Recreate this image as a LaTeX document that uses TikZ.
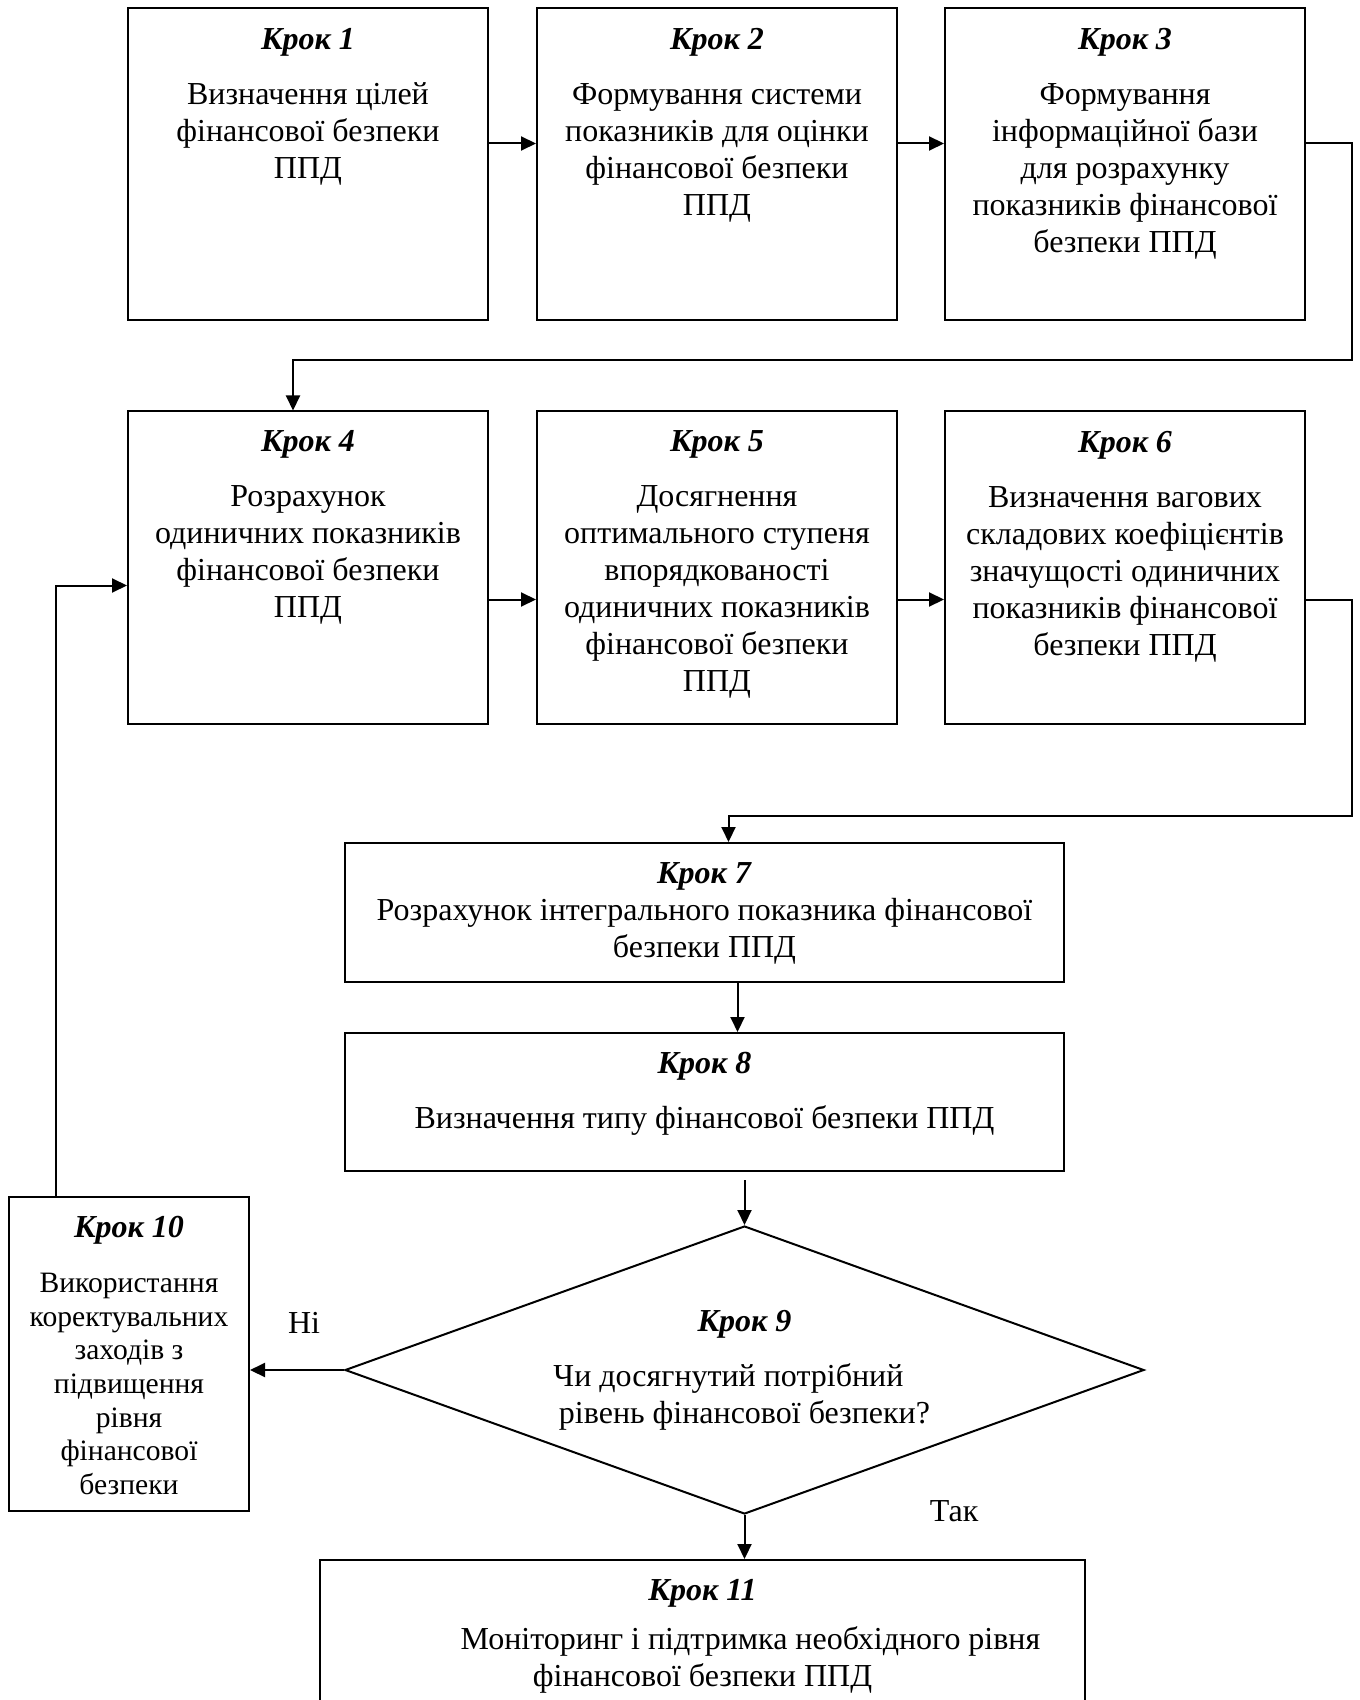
\documentclass[tikz,border=0pt]{standalone}
\usepackage{fontspec}
\setmainfont{Liberation Serif}
\usepackage{tikz}
\usetikzlibrary{arrows.meta,shapes.geometric,positioning}
\newcommand{\krok}[1]{\textbf{\textit{Крок #1}}}

\begin{document}
\begin{tikzpicture}[x=0.5pt,y=-0.5pt]
\tikzstyle{stepbox}=[draw,line width=1pt,inner sep=0pt,minimum width=180pt,minimum height=156pt]
\tikzstyle{steptext}=[align=center,inner sep=0pt,font=\fontsize{16pt}{18.5pt}\selectfont]
\tikzstyle{smalltext}=[steptext,font=\fontsize{14.8pt}{16.8pt}\selectfont]
\tikzstyle{arr}=[-{Triangle[length=7.5pt,width=7pt]},line width=1pt]
\clip (0,0) rectangle (1359,1700);
\node[stepbox] (s1) at (308,164.5) {};
\node[stepbox] (s2) at (717,164.5) {};
\node[stepbox] (s3) at (1125,164.5) {};
\node[stepbox] (s4) at (308,567.5) {};
\node[stepbox] (s5) at (717,567.5) {};
\node[stepbox] (s6) at (1125,567.5) {};
\node[stepbox,minimum width=359.5pt,minimum height=69.5pt] (s7) at (704.5,912.5) {};
\node[stepbox,minimum width=359.5pt,minimum height=69pt] (s8) at (704.5,1102) {};
\node[stepbox,diamond,shape aspect=2.77,minimum width=399.5pt,minimum height=144pt] (d9) at (744.5,1370) {};
\node[stepbox,minimum width=120pt,minimum height=157pt] (s10) at (129,1354) {};
\node[stepbox,minimum width=382.5pt,minimum height=100pt] (s11) at (702.5,1660) {};
\node[steptext,below=10pt of s1.north] (t1) {\krok{1}\\[9pt]Визначення цілей\\фінансової безпеки\\ППД};
\node[steptext,below=10pt of s2.north] (t2) {\krok{2}\\[9pt]Формування системи\\показників для оцінки\\фінансової безпеки\\ППД};
\node[steptext,below=10pt of s3.north] (t3) {\krok{3}\\[9pt]Формування\\інформаційної бази\\для розрахунку\\показників фінансової\\безпеки ППД};
\node[steptext,below=10pt of s4.north] (t4) {\krok{4}\\[9pt]Розрахунок\\одиничних показників\\фінансової безпеки\\ППД};
\node[steptext,below=10pt of s5.north] (t5) {\krok{5}\\[9pt]Досягнення\\оптимального ступеня\\впорядкованості\\одиничних показників\\фінансової безпеки\\ППД};
\node[steptext,below=10pt of s6.north] (t6) {\krok{6}\\[9pt]Визначення вагових\\складових коефіцієнтів\\значущості одиничних\\показників фінансової\\безпеки ППД};
\node[steptext,below=10pt of s7.north] (t7) {\krok{7}\\Розрахунок інтегрального показника фінансової\\безпеки ППД};
\node[steptext,below=10pt of s8.north] (t8) {\krok{8}\\[9pt]Визначення типу фінансової безпеки ППД};
\node[steptext] (t9) at (d9.center) {\krok{9}\\[9pt]\mbox{Чи досягнутий потрібний\hspace{16pt}}\\рівень фінансової безпеки?};
\node[smalltext,below=10pt of s10.north] (t10) {\fontsize{16pt}{18.5pt}\selectfont\krok{10}\\[10.7pt]Використання\\коректувальних\\заходів з\\підвищення\\рівня\\фінансової\\безпеки};
\node[steptext,below=10pt of s11.north] (t11) {\krok{11}\\[6pt]\hspace*{48pt}Моніторинг і підтримка необхідного рівня\\фінансової безпеки ППД};
\node[steptext] (no) at (304,1323) {Ні};
\node[steptext] (yes) at (954,1511) {Так};
\coordinate (c1) at (1352,360);
\coordinate (c2) at (1352,816);
\draw[arr] ([yshift=10.5pt]s1.east) -- ([yshift=10.5pt]s2.west);
\draw[arr] ([yshift=10.5pt]s2.east) -- ([yshift=10.5pt]s3.west);
\draw[arr] ([yshift=10.5pt]s3.east) -| (c1) -| ([xshift=-7.5pt]s4.north);
\draw[arr] ([yshift=-16pt]s4.east) -- ([yshift=-16pt]s5.west);
\draw[arr] ([yshift=-16pt]s5.east) -- ([yshift=-16pt]s6.west);
\draw[arr] ([yshift=-16pt]s6.east) -| (c2) -| ([xshift=12pt]s7.north);
\draw[arr] ([xshift=16.5pt]s7.south) -- ([xshift=16.5pt]s8.north);
\draw[arr,shorten <=4pt] (d9.north |- s8.south) -- (d9.north);
\draw[arr] (d9.west) -- (d9.west -| s10.east);
\draw[arr] ([xshift=-36.5pt]s10.north) |- ([yshift=-9pt]s4.west);
\draw[arr] (d9.south) -- (d9.south |- s11.north);
\end{tikzpicture}
\end{document}
